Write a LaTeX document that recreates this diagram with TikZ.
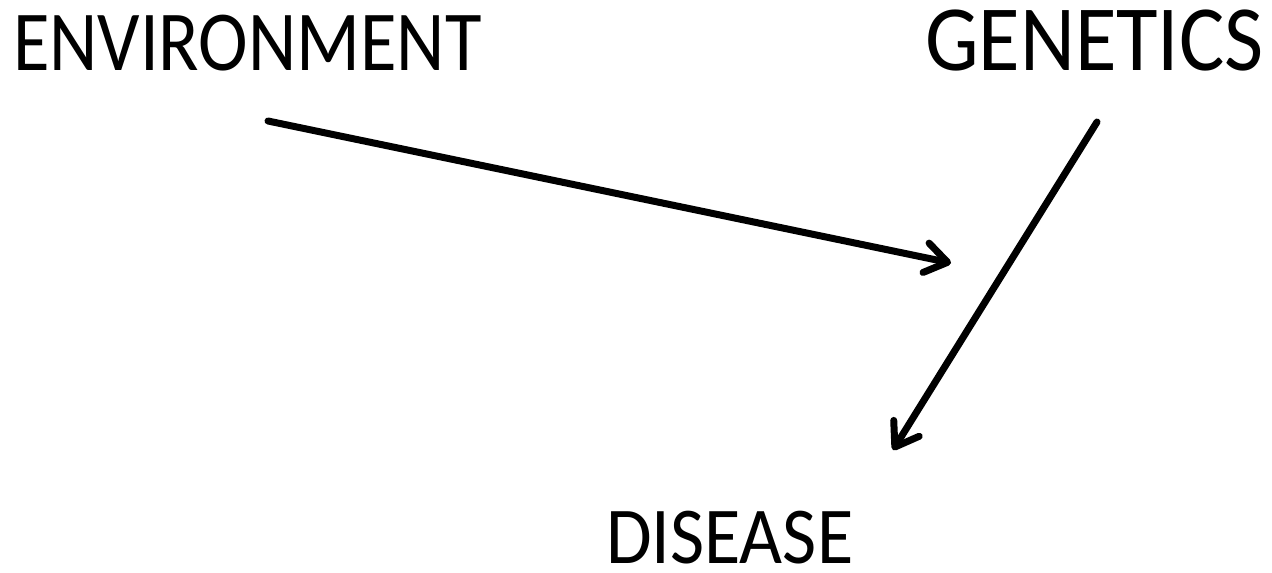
\documentclass[tikz,border=0pt]{standalone}
\usepackage{fontspec}
\setmainfont{Carlito}
\usetikzlibrary{arrows.meta}
\tikzset{
  lbl/.style={anchor=base west, inner sep=0pt, outer sep=0pt},
  conn/.style={line width=7pt, line cap=round, line join=round,
    -{Straight Barb[length=22pt,width=30pt,round]}}
}
\begin{document}
\begin{tikzpicture}[x=1pt,y=-1pt]
\useasboundingbox (0,0) rectangle (1272,573);
\node[lbl] (env) at (13,70.5) {\scalebox{0.875}[1]{\fontsize{85.4}{90}\selectfont ENVIRONMENT}};
\node[lbl] (gen) at (925,70) {\scalebox{0.91}[1]{\fontsize{93.4}{98}\selectfont GENETICS}};
\node[lbl] (dis) at (606,563) {\scalebox{0.92}[1]{\fontsize{80.7}{85}\selectfont DISEASE}};
\coordinate (a1) at (268,121);
\coordinate (a1t) at (951,263);
\coordinate (a2) at (1097,122);
\coordinate (a2t) at (893,450);
\draw[conn] (a1) -- (a1t);
\draw[conn] (a2) -- (a2t);
\end{tikzpicture}
\end{document}
